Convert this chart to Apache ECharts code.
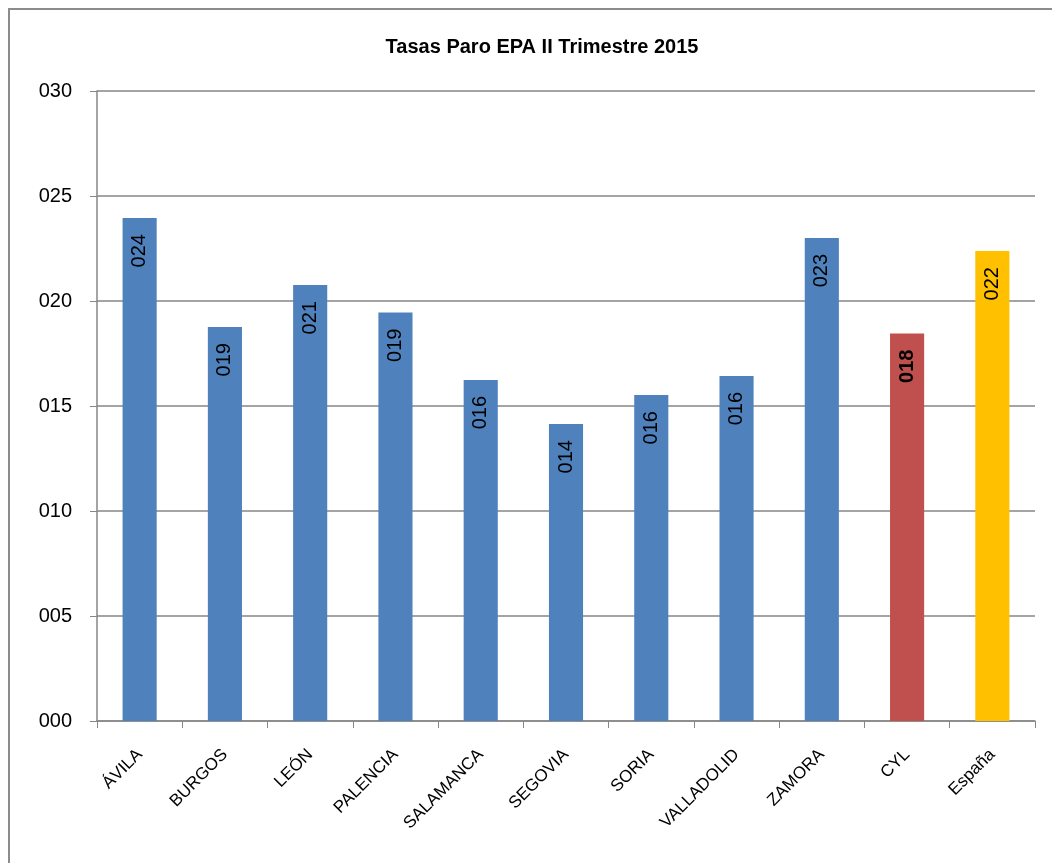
<!DOCTYPE html>
<html><head><meta charset="utf-8">
<script src="https://cdn.jsdelivr.net/npm/echarts@6/dist/echarts.min.js"></script>
<style>html,body{margin:0;padding:0;background:#fff}#frame{position:absolute;left:8px;top:8px;width:1060px;height:880px;border:2px solid #8c8c8c;box-sizing:border-box}#c{position:absolute;left:0;top:0;width:1052px;height:863px}</style>
</head><body><div id="frame"></div><div id="c"></div>
<script>
const categories = ['ÁVILA','BURGOS','LEÓN','PALENCIA','SALAMANCA','SEGOVIA','SORIA','VALLADOLID','ZAMORA','CYL','España'];
const values = [23.95, 18.76, 20.76, 19.45, 16.24, 14.14, 15.52, 16.43, 23.0, 18.45, 22.38];
const barColors = ['#4f81bd','#4f81bd','#4f81bd','#4f81bd','#4f81bd','#4f81bd','#4f81bd','#4f81bd','#4f81bd','#c0504d','#ffc000'];
const yTicks = [0,5,10,15,20,25,30];
const pad3 = v => String(Math.round(v)).padStart(3,'0');
const font = 'Liberation Sans, sans-serif';
const chart = echarts.init(document.getElementById('c'));
chart.setOption({
  animation:false,
  title:{text:'Tasas Paro EPA II Trimestre 2015',left:537,top:32,textAlign:'center',textStyle:{fontFamily:font,fontWeight:'bold',fontSize:20,color:'#000'}},
  grid:{left:97,right:17,top:91,bottom:142},
  xAxis:{type:'category',data:categories,
    axisLine:{lineStyle:{color:'#868686',width:1.5}},
    axisTick:{show:true,alignWithLabel:false,length:7,lineStyle:{color:'#868686'}},
    axisLabel:{rotate:45,fontFamily:font,fontSize:17,color:'#000',margin:31,interval:0}},
  yAxis:{type:'value',min:0,max:30,interval:5,
    axisLine:{show:true,lineStyle:{color:'#868686',width:1.5}},
    axisTick:{show:true,length:7,lineStyle:{color:'#868686'}},
    splitLine:{lineStyle:{color:'#868686',width:1.5}},
    axisLabel:{fontFamily:font,fontSize:20,color:'#000',margin:25,formatter:v=>pad3(v)}},
  series:[{type:'bar',barWidth:'40%',
    data:values.map((v,i)=>({value:v,itemStyle:{color:barColors[i]},
      label:{fontWeight:i===9?'bold':'normal'}})),
    label:{show:true,position:'insideTop',rotate:90,align:'right',verticalAlign:'middle',distance:16,
      fontFamily:font,fontSize:20,color:'#000',formatter:p=>pad3(p.value)}}]
});
</script></body></html>
